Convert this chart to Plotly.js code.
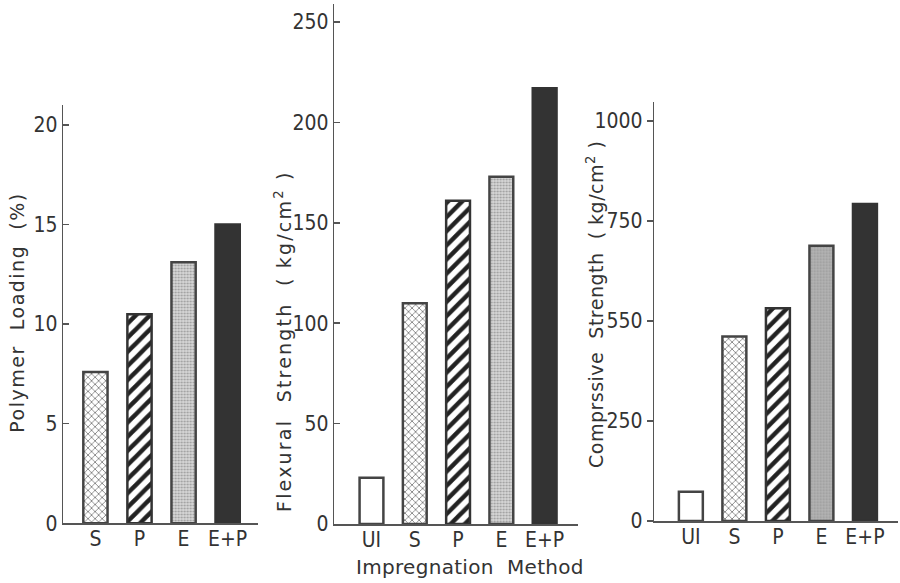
<!DOCTYPE html>
<html>
<head>
<meta charset="utf-8">
<script src="https://cdn.plot.ly/plotly-3.0.1.min.js"></script>
<style>html,body{margin:0;padding:0;background:#fff;}#chart{width:900px;height:583px;}</style>
</head>
<body>
<div id="chart"></div>
<script>
// ---- data ----
const methods1 = ["S", "P", "E", "E+P"];
const polymerLoading = [7.6, 10.5, 13.1, 15.0];

const methods2 = ["UI", "S", "P", "E", "E+P"];
const flexuralStrength = [23, 110, 161, 173, 217];

const methods3 = ["UI", "S", "P", "E", "E+P"];
const compressiveStrength = [73, 461, 532, 688, 792];

const compTickVals = [0, 250, 500, 750, 1000];
const compTickText = ["0", "250", "550", "750", "1000"];

const title1 = "Polymer  Loading  (%)";
const title2 = "Flexural  Strength  ( kg/cm<sup>2</sup> )";
const title3 = "Comprssive  Strength  ( kg/cm<sup>2</sup> )";
const xTitle = "Impregnation  Method";

// ---- styles per method ----
const styleMap = {
  "UI":  {shape: "",  bg: "#ffffff", fg: "#ffffff", line: "#444", size: 8, sol: 0.1},
  "S":   {shape: "x", bg: "#ffffff", fg: "#555555", line: "#444", size: 5, sol: 0.24},
  "P":   {shape: "/", bg: "#ffffff", fg: "#222222", line: "#333", size: 10, sol: 0.45},
  "E":   {shape: ".", bg: "#d8d8d8", fg: "#9a9a9a", line: "#444", size: 3, sol: 0.35},
  "E+P": {shape: "",  bg: "#333333", fg: "#333333", line: "#333", size: 8, sol: 0.1}
};

function barTraces(cats, vals, xa, ya, eBg) {
  return cats.map((c, i) => {
    const s = styleMap[c];
    const bg = (c === "E" && eBg) ? eBg : s.bg;
    const marker = {color: bg, line: {color: s.line, width: 2.5}};
    if (s.shape) {
      marker.pattern = {shape: s.shape, fillmode: "overlay", bgcolor: bg, fgcolor: s.fg,
                        fgopacity: 1, size: s.size, solidity: s.sol};
    }
    return {type: "bar", x: [c], y: [vals[i]], xaxis: xa, yaxis: ya, width: 0.55,
            showlegend: false, name: c, marker: marker};
  });
}

const tickFont = {family: "DejaVu Sans Condensed, sans-serif", size: 21, color: "#333"};
const titleFont = {family: "DejaVu Sans, sans-serif", size: 19, color: "#333"};

function yax(domainY, range, extra, ticksDir) {
  return Object.assign({
    domain: domainY, range: range, showline: true, linecolor: "#555", linewidth: 1.5,
    showgrid: false, zeroline: false, ticks: ticksDir, ticklen: 6, tickcolor: "#555", tickwidth: 1.5,
    tickfont: tickFont, automargin: false
  }, extra);
}
function xax(domainX, range, anchor) {
  return {
    domain: domainX, range: range, type: "category", anchor: anchor,
    showline: true, linecolor: "#555", linewidth: 1.5, showgrid: false, zeroline: false,
    ticks: "", tickfont: tickFont, automargin: false, ticklabelstandoff: -4
  };
}

const data = [].concat(
  barTraces(methods1, polymerLoading, "x", "y", null),
  barTraces(methods2, flexuralStrength, "x2", "y2", null),
  barTraces(methods3, compressiveStrength, "x3", "y3", "#b4b4b4")
);

function yTitleAnn(text, x, y, size) {
  return {text: text, xref: "paper", yref: "paper", x: x, y: y, xanchor: "center", yanchor: "middle",
          textangle: -90, showarrow: false, font: Object.assign({}, titleFont, {size: size})};
}

const layout = {
  width: 900, height: 583,
  margin: {l: 0, r: 0, t: 0, b: 0},
  paper_bgcolor: "#fff", plot_bgcolor: "rgba(0,0,0,0)",
  barmode: "overlay",
  xaxis:  xax([0.0703, 0.2867], [-0.73, 3.69], "y"),
  yaxis:  yax([0.1024, 0.8199], [0, 21], {anchor: "x", tickvals: [0, 5, 10, 15, 20]}, "inside"),
  xaxis2: xax([0.3714, 0.6422], [-0.86, 4.77], "y2"),
  yaxis2: yax([0.1012, 0.9931], [0, 259], {anchor: "x2", tickvals: [0, 50, 100, 150, 200, 250]}, "inside"),
  xaxis3: xax([0.727, 0.9978], [-0.84, 4.76], "y3"),
  yaxis3: yax([0.1063, 0.8256], [0, 1048], {anchor: "x3", tickvals: compTickVals, ticktext: compTickText}, "outside"),
  annotations: [
    yTitleAnn(title1, 17 / 900, 1 - 313 / 583, 19),
    yTitleAnn(title2, 283 / 900, 1 - 341 / 583, 19),
    yTitleAnn(title3, 595 / 900, 1 - 305 / 583, 19),
    {text: xTitle, xref: "paper", yref: "paper", x: 470 / 900, y: 1 - 567 / 583, xanchor: "center", yanchor: "middle",
     showarrow: false, font: {family: "DejaVu Sans, sans-serif", size: 20, color: "#333"}}
  ]
};

const spacing = [1.5, 2.2, 0.5, 0.3];
Plotly.newPlot("chart", data, layout, {staticPlot: true}).then(() => {
  document.querySelectorAll("#chart .annotation-text").forEach((el, i) => {
    if (spacing[i] !== undefined) el.style.letterSpacing = spacing[i] + "px";
  });
});
</script>
</body>
</html>
